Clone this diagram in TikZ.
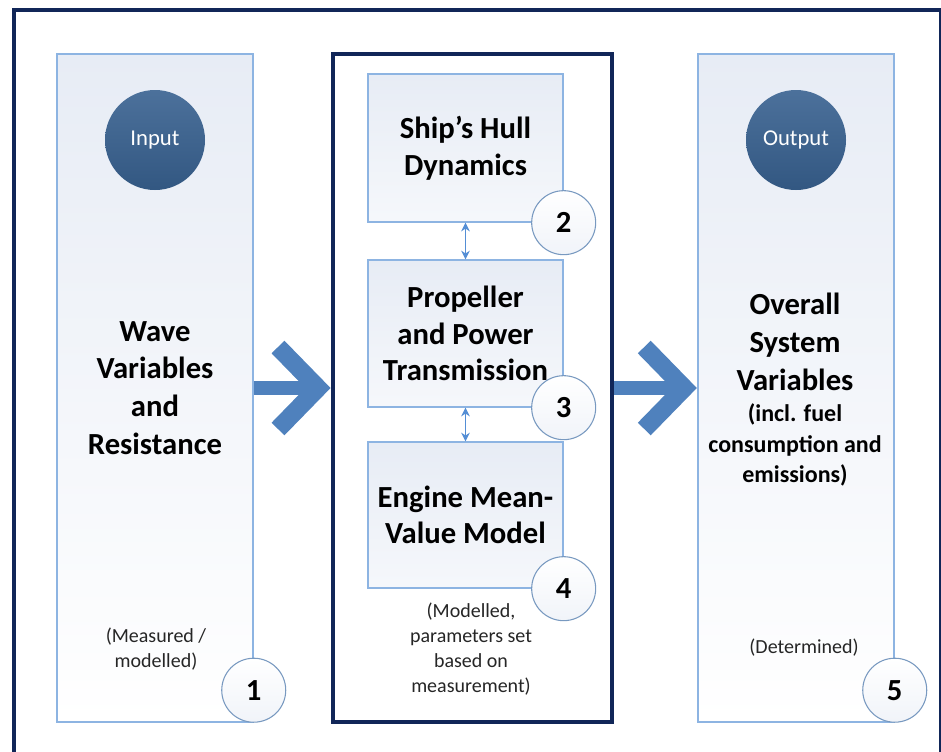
\documentclass[tikz,border=0pt]{standalone}
\usepackage{fontspec}
\setmainfont{Carlito}
\usetikzlibrary{arrows.meta}
\definecolor{navy}{RGB}{17,38,88}
\definecolor{paneledge}{RGB}{141,180,226}
\definecolor{paneltop}{RGB}{231,236,245}
\definecolor{arrowblue}{RGB}{79,129,189}
\definecolor{ballblue}{RGB}{56,97,144}
\definecolor{linkblue}{RGB}{84,142,213}
\begin{document}
\begin{tikzpicture}[x=0.75pt,y=-0.75pt]
	\tikzstyle{Panel} = [rectangle, draw=paneledge, line width=1.1pt, top color=paneltop, bottom color=white, minimum width=147pt, minimum height=501pt, inner sep=0pt]
	\tikzstyle{Block} = [rectangle, draw=paneledge, line width=1pt, top color=paneltop, bottom color=white!60!paneltop, minimum width=146.25pt, inner sep=0pt]
	\tikzstyle{Ball} = [circle, top color=ballblue!90!white, bottom color=ballblue!90!black, text=white, minimum size=75pt, inner sep=0pt, font=\fontsize{17}{17}\selectfont]
	\tikzstyle{Num} = [circle, draw=paneledge!85!black, line width=0.8pt, top color=white, bottom color=paneltop!60!white, minimum size=48pt, inner sep=0pt, font=\fontsize{23}{23}\selectfont\bfseries]
	\tikzstyle{Title} = [align=center, inner sep=0pt, font=\fontsize{23}{28.3}\selectfont\bfseries]
	\tikzstyle{Note} = [align=center, inner sep=0pt, text=black!85, font=\fontsize{15}{18.75}\selectfont]
	\tikzstyle{Shaft} = [draw=arrowblue, line width=11pt]
	\tikzstyle{Chevron} = [draw=arrowblue, line width=13.5pt, miter limit=4]
	\tikzstyle{Link} = [draw=linkblue, line width=1.1pt, {Stealth[length=6.5pt,width=6.5pt]}-{Stealth[length=6.5pt,width=6.5pt]}]

	\useasboundingbox (0,0) rectangle (941,751);
	\clip (0,0) rectangle (941,751);
	\draw[navy, line width=3pt] (14,10) rectangle (941,800);

	% three columns
	\node (inpanel) at (155,388) [Panel] {};
	\node (outpanel) at (796,388) [Panel] {};
	\node (model) at (472.5,388) [rectangle, draw=navy, line width=3pt, fill=white, minimum width=209.25pt, minimum height=501pt, inner sep=0pt] {};

	\node (hull) at (465.5,148) [Block, minimum height=111pt] {};
	\node (prop) at (465.5,333.5) [Block, minimum height=110.25pt] {};
	\node (engine) at (465.5,515) [Block, minimum height=109.5pt] {};

	\node (input) at (155,140) [Ball] {Input};
	\node (output) at (796,140) [Ball] {Output};

	\node (wave) at (155,388) [Title] {Wave\\Variables\\and\\Resistance};
	\node (measured) at (156,649) [Note] {(Measured /\\modelled)};
	\node (hulltxt) at (hull) [Title, font=\fontsize{23}{27.4}\selectfont\bfseries] {Ship’s Hull\\Dynamics};
	\node (proptxt) at (prop) [Title, font=\fontsize{23}{27.4}\selectfont\bfseries] {Propeller\\and Power\\Transmission};
	\node (enginetxt) at (engine) [Title, font=\fontsize{23}{27.4}\selectfont\bfseries] {Engine Mean-\\Value Model};
	\node (modelled) at (471,649) [Note] {(Modelled,\\parameters set\\based on\\measurement)};
	\node (overall) at (795,342) [Title] {Overall\\System\\Variables};
	\node (incl) at (795,445) [Title, font=\fontsize{18}{23}\selectfont\bfseries] {(incl. fuel\\consumption and\\emissions)};
	\node (determined) at (804,648) [Note] {(Determined)};

	\node (n1) at (inpanel.south east) [Num, anchor=south] {1};
	\node (n2) at (hull.south east) [Num] {2};
	\node (n3) at (prop.south east) [Num] {3};
	\node (n4) at (engine.south east) [Num] {4};
	\node (n5) at (outpanel.south east) [Num, anchor=south] {5};

	% links
	\draw [Link] (hull.south) to (prop.north);
	\draw [Link] (prop.south) to (engine.north);

	% big arrows
	\draw [Shaft] (inpanel.east) to ([shift={(-13,0)}]model.west);
	\draw [Chevron] ([shift={(-53,-41)}]model.west) -- ([shift={(-13,0)}]model.west) -- ([shift={(-53,41)}]model.west);
	\draw [Shaft] (model.east) to ([shift={(-13,0)}]outpanel.west);
	\draw [Chevron] ([shift={(-53,-41)}]outpanel.west) -- ([shift={(-13,0)}]outpanel.west) -- ([shift={(-53,41)}]outpanel.west);
\end{tikzpicture}
\end{document}
